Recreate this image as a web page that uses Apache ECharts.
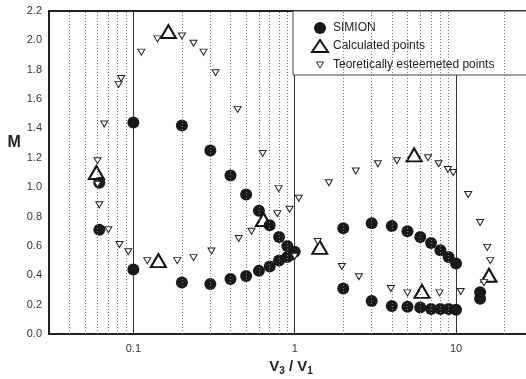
<!DOCTYPE html>
<html>
<head>
<meta charset="utf-8">
<script src="https://cdn.jsdelivr.net/npm/echarts@6/dist/echarts.min.js"></script>
<style>
  html, body { margin: 0; padding: 0; background: #fff; }
  #chart { width: 526px; height: 379px; }
</style>
</head>
<body>
<div id="chart"></div>
<script>
// SIMION points [V3/V1, M]
const simionPoints = [
  [0.0615, 1.03], [0.0615, 0.71], [0.1, 1.44], [0.1, 0.44],
  [0.2, 1.42], [0.3, 1.25], [0.4, 1.08], [0.5, 0.95], [0.6, 0.84],
  [0.7, 0.74], [0.8, 0.66], [0.9, 0.60], [1.0, 0.56],
  [0.2, 0.35], [0.3, 0.34], [0.4, 0.375], [0.5, 0.395], [0.6, 0.43],
  [0.7, 0.46], [0.8, 0.50], [0.9, 0.525], [0.95, 0.54],
  [2, 0.72], [2, 0.31],
  [3, 0.755], [3, 0.225], [4, 0.735], [4, 0.19], [5, 0.70], [5, 0.185],
  [6, 0.66], [6, 0.18], [7, 0.62], [7, 0.17], [8, 0.57], [8, 0.17],
  [9, 0.525], [9, 0.17], [10, 0.48], [10, 0.165],
  [14.1, 0.285], [14.1, 0.24]
]

// calculated points
const calculatedPoints = [
  [0.059, 1.10], [0.165, 2.06], [0.143, 0.50], [0.64, 0.78],
  [1.43, 0.59], [5.5, 1.22], [6.15, 0.29], [16.0, 0.40]
]

// theoretically estimated points
const theoreticalPoints = [
  [0.112, 1.92], [0.141, 2.01], [0.084, 1.74], [0.081, 1.70],
  [0.066, 1.43], [0.06, 1.18], [0.06, 1.02], [0.0615, 0.88],
  [0.07, 0.71], [0.082, 0.61], [0.093, 0.56], [0.122, 0.50], [0.187, 0.50],
  [0.20, 2.03], [0.236, 1.98], [0.272, 1.92], [0.323, 1.78], [0.443, 1.53],
  [0.633, 1.23], [0.795, 0.99], [1.06, 0.925], [0.93, 0.85], [0.78, 0.82],
  [0.54, 0.70], [0.45, 0.65], [0.305, 0.565], [0.236, 0.52], [1.0, 0.53],
  [1.63, 1.03], [1.39, 0.63], [1.96, 0.46],
  [2.39, 1.11], [3.28, 1.16], [4.3, 1.18], [6.7, 1.20], [7.8, 1.16],
  [8.9, 1.12], [9.6, 1.10],
  [11.9, 0.95], [14.1, 0.76], [15.6, 0.59], [16.3, 0.50], [14.9, 0.35],
  [2.5, 0.39], [3.95, 0.31], [5.0, 0.28], [7.9, 0.28], [10.7, 0.29]
]

// dotted minor grid positions on the log axis
const minorTicks = [
  0.04, 0.05, 0.06, 0.07, 0.08, 0.09,
  0.2, 0.3, 0.4, 0.5, 0.6, 0.7, 0.8, 0.9,
  2, 3, 4, 5, 6, 7, 8, 9, 20
]

const seriesNames = ['SIMION', 'Calculated points', 'Teoretically esteemeted points']

const chart = echarts.init(document.getElementById('chart'))

const font = 'Liberation Sans, Arial, sans-serif'

const option = {
  animation: false,
  backgroundColor: '#fff',
  textStyle: { fontFamily: font },
  grid: {
    left: 49,
    top: 11,
    bottom: 45,
    right: -7,
    outerBoundsMode: 'none',
    show: true,
    borderColor: '#222',
    borderWidth: 2
  },
  legend: {
    orient: 'vertical',
    left: 293,
    top: 11,
    padding: [11, 60, 4, 18],
    itemWidth: 16,
    itemHeight: 12,
    itemGap: 5,
    backgroundColor: '#fff',
    borderColor: '#444',
    borderWidth: 1,
    textStyle: { fontSize: 12, color: '#222', fontFamily: font },
    data: [
      { name: seriesNames[0], icon: 'circle', itemStyle: { color: '#1a1a1a' } },
      {
        name: seriesNames[1], icon: 'triangle',
        itemStyle: { color: 'rgba(0,0,0,0)', borderColor: '#111', borderWidth: 2 }
      },
      {
        name: seriesNames[2],
        icon: 'path://M0,0M16,12M4.5,3.5L11.5,3.5L8,9.5Z',
        itemStyle: { color: '#fff', borderColor: '#222', borderWidth: 1 }
      }
    ]
  },
  xAxis: {
    type: 'log',
    logBase: 10,
    min: 0.03,
    max: 30,
    name: '{b|V}{s|3}{b| / V}{s|1}',
    nameLocation: 'middle',
    nameGap: 17,
    nameTextStyle: {
      rich: {
        b: { fontSize: 15, fontWeight: 'bold', color: '#222', fontFamily: font },
        s: { fontSize: 10, fontWeight: 'bold', color: '#222', fontFamily: font, padding: [9, 0, 0, 0] }
      }
    },
    axisLine: { lineStyle: { color: '#222', width: 2 } },
    axisTick: { show: false },
    axisLabel: {
      color: '#333',
      fontSize: 11,
      margin: 9,
      showMinLabel: false,
      showMaxLabel: false
    },
    splitLine: { show: true, lineStyle: { color: '#333', width: 1 } },
    minorSplitLine: { show: false }
  },
  yAxis: {
    type: 'value',
    min: 0,
    max: 2.2,
    interval: 0.2,
    name: 'M\n\n\n\n\n',
    nameLocation: 'middle',
    nameRotate: 0,
    nameGap: 26,
    nameTextStyle: {
      fontSize: 16, fontWeight: 'bold', color: '#222', fontFamily: font,
      lineHeight: 12
    },
    axisLine: { show: true, lineStyle: { color: '#222', width: 2 } },
    axisTick: { show: false },
    axisLabel: {
      color: '#333',
      fontSize: 11,
      margin: 7,
      formatter: v => v.toFixed(1)
    },
    splitLine: { show: false }
  },
  series: [
    {
      name: 'minor',
      type: 'scatter',
      data: [],
      z: 1,
      silent: true,
      markLine: {
        silent: true,
        symbol: 'none',
        label: { show: false },
        lineStyle: { type: [1, 2], color: '#777', width: 1 },
        data: minorTicks.map(v => ({ xAxis: v }))
      }
    },
    {
      name: seriesNames[0],
      type: 'scatter',
      symbol: 'circle',
      symbolSize: 12,
      z: 3,
      itemStyle: { color: '#1a1a1a', opacity: 1 },
      data: simionPoints
    },
    {
      name: seriesNames[1],
      type: 'scatter',
      symbol: 'triangle',
      symbolSize: [15, 13],
      z: 4,
      itemStyle: { color: 'rgba(0,0,0,0)', borderColor: '#111', borderWidth: 2, opacity: 1 },
      data: calculatedPoints
    },
    {
      name: seriesNames[2],
      type: 'scatter',
      symbol: 'triangle',
      symbolRotate: 180,
      symbolSize: [7, 6],
      z: 5,
      itemStyle: { color: '#fff', borderColor: '#222', borderWidth: 1, opacity: 1 },
      data: theoreticalPoints
    }
  ]
}

chart.setOption(option)
</script>
</body>
</html>
